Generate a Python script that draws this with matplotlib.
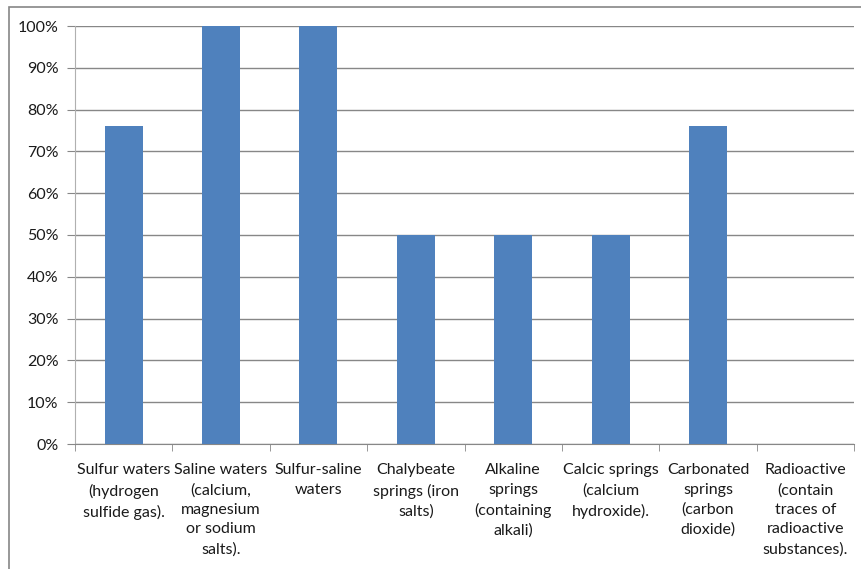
import matplotlib.pyplot as plt
from matplotlib.patches import Rectangle
from matplotlib.ticker import PercentFormatter

categories = [
    "Sulfur waters\n(hydrogen\nsulfide gas).",
    "Saline waters\n(calcium,\nmagnesium\nor sodium\nsalts).",
    "Sulfur-saline\nwaters",
    "Chalybeate\nsprings (iron\nsalts)",
    "Alkaline\nsprings\n(containing\nalkali)",
    "Calcic springs\n(calcium\nhydroxide).",
    "Carbonated\nsprings\n(carbon\ndioxide)",
    "Radioactive\n(contain\ntraces of\nradioactive\nsubstances).",
]
values = [0.76, 1.0, 1.0, 0.5, 0.5, 0.5, 0.76, 0.0]
yticks = [i / 10 for i in range(11)]

plt.rcParams['font.family'] = ['Lato', 'DejaVu Sans']

fig = plt.figure(figsize=(8.61, 5.69), dpi=100)
ax = fig.add_axes([75 / 861, 125 / 569, 779 / 861, 418 / 569])

x = list(range(len(categories)))
ax.bar(x, values, width=0.39, color="#4F81BD", zorder=3)

ax.set_xlim(-0.5, len(categories) - 0.5)
ax.set_ylim(0, 1)
ax.set_yticks(yticks)
ax.yaxis.set_major_formatter(PercentFormatter(1.0, decimals=0))
ax.grid(axis="y", color="#878787", linewidth=1, zorder=0)

ax.set_xticks(x)
ax.set_xticklabels(categories, fontsize=11.5, linespacing=1.5, va="top", color="#1a1a1a")
ax.set_xticks([i - 0.5 for i in range(len(categories) + 1)], minor=True)
ax.tick_params(axis="x", which="major", length=0, pad=14)
ax.tick_params(axis="x", which="minor", length=5, color="#878787", direction="out")
ax.tick_params(axis="y", length=6, color="#878787", labelsize=11.5, labelcolor="#1a1a1a", pad=6)

for side in ["top", "right"]:
    ax.spines[side].set_visible(False)
ax.spines["left"].set_color("#b0b0b0")
ax.spines["bottom"].set_color("#878787")

# chart border, running off the right and bottom edges
fig.patches.append(Rectangle((9 / 861, -0.1), 1.0, (569 - 7) / 569 + 0.1,
                             transform=fig.transFigure, fill=False,
                             edgecolor="#868686", linewidth=1.2))

plt.savefig("out.png", dpi=100)
